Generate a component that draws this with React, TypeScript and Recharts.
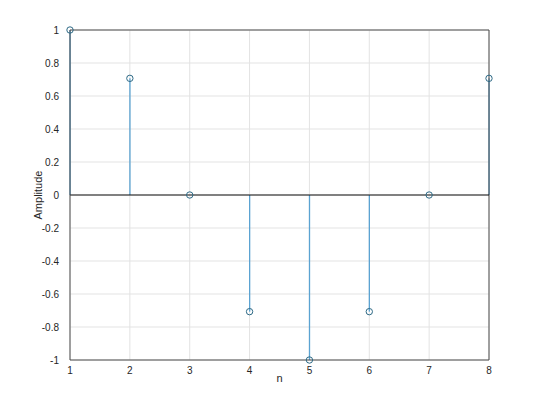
import { ComposedChart, Bar, Line, XAxis, YAxis, CartesianGrid, ReferenceLine } from 'recharts';

const samples = [1, 2, 3, 4, 5, 6, 7, 8];
const amplitude = [1, 0.707, 0, -0.707, -1, -0.707, 0, 0.707];
const yTicks = [-1, -0.8, -0.6, -0.4, -0.2, 0, 0.2, 0.4, 0.6, 0.8, 1];

const data = samples.map((n, i) => ({ n, amp: amplitude[i] }));

const STEM = '#5ba3d2';
const MARKER = '#2e6a86';
const FRAME = '#4d4d4d';
const FONT = 'Helvetica, Arial, "Liberation Sans", sans-serif';

function Stem(props: any) {
  const { x, y, width, height } = props;
  const cx = x + width / 2;
  return <line x1={cx} x2={cx} y1={y} y2={y + height} stroke={STEM} strokeWidth={1.3} />;
}

export default function App() {
  const tick = { fontSize: 10, fill: '#262626', fontFamily: FONT };
  return (
    <div style={{ position: 'absolute', left: 0, top: 0, width: 540, height: 405, background: '#fff' }}>
      <ComposedChart
        width={540}
        height={405}
        data={data}
        margin={{ top: 30, right: 51, bottom: 15, left: 0 }}
      >
        <CartesianGrid stroke="#e3e3e3" strokeWidth={1} />
        <ReferenceLine y={1} stroke={FRAME} />
        <ReferenceLine x={8} stroke={FRAME} />
        <ReferenceLine y={0} stroke="#111" strokeWidth={1.2} />
        <XAxis
          dataKey="n"
          type="number"
          domain={[1, 8]}
          ticks={samples}
          height={30}
          tick={tick}
          tickLine={false}
          tickMargin={1}
          axisLine={{ stroke: FRAME }}
          label={{ value: 'n', position: 'insideBottom', offset: 8, fontSize: 11, fill: '#262626', fontFamily: FONT }}
        />
        <YAxis
          type="number"
          domain={[-1, 1]}
          ticks={yTicks}
          width={70}
          interval={0}
          tick={tick}
          tickLine={false}
          tickMargin={5}
          axisLine={{ stroke: FRAME }}
          label={{ value: 'Amplitude', angle: -90, position: 'insideLeft', offset: 38, fontSize: 11, fill: '#262626', fontFamily: FONT, style: { textAnchor: 'middle' } }}
        />
        <Bar dataKey="amp" barSize={2} shape={<Stem />} isAnimationActive={false} />
        <Line
          dataKey="amp"
          stroke="none"
          dot={{ r: 3.2, fill: 'none', stroke: MARKER, strokeWidth: 1 }}
          activeDot={false}
          isAnimationActive={false}
        />
      </ComposedChart>
    </div>
  );
}
